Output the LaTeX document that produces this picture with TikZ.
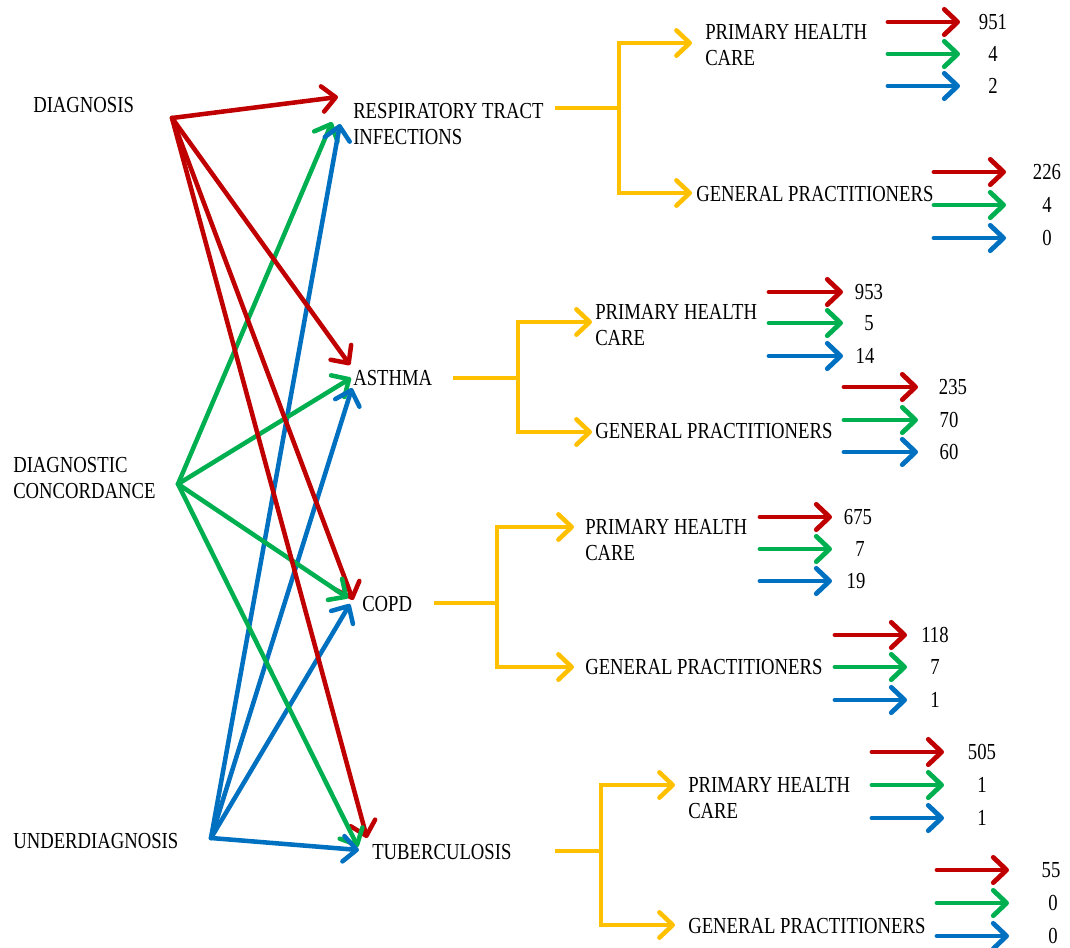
\documentclass[tikz,border=0pt]{standalone}
\usepackage{fontspec}
\setmainfont{Liberation Serif}[FakeStretch=0.815]
\usetikzlibrary{arrows.meta}
\definecolor{cRed}{HTML}{C00000}
\definecolor{cGreen}{HTML}{00B050}
\definecolor{cBlue}{HTML}{0070C0}
\definecolor{cGold}{HTML}{FFC000}

\begin{document}
\begin{tikzpicture}[
  x=0.75pt, y=-0.75pt,
  >={Straight Barb[round,length=10pt,width=19pt]},
  txt/.style={font=\fontsize{17.2}{20}\selectfont, inner sep=0pt, anchor=west, align=left},
  num/.style={font=\fontsize{17.2}{20}\selectfont, inner sep=0pt},
  link/.style={line width=3.4pt, ->, line cap=round},
  feed/.style={line width=3.4pt, cGold},
  count/.style={line width=3.6pt, ->, line cap=round},
]
\useasboundingbox (0,0) rectangle (1070,947);

% left column
\node[txt] (diag) at (33,105) {DIAGNOSIS};
\node[txt] (conc) at (13,478) {DIAGNOSTIC\\CONCORDANCE};
\node[txt] (under) at (13,841) {UNDERDIAGNOSIS};

% middle column
\node[txt] (rti) at (353,124) {RESPIRATORY TRACT\\INFECTIONS};
\node[txt] (asth) at (353,378) {ASTHMA};
\node[txt] (copd) at (362,604) {COPD};
\node[txt] (tb) at (372,852) {TUBERCULOSIS};

% where the links leave and land
\coordinate (diag-o) at (172,118);
\coordinate (conc-o) at (178,484);
\coordinate (under-o) at (211,838);
\coordinate (rti-r) at (338,97);
\coordinate (rti-g) at (332,122);
\coordinate (rti-b) at (340,124);
\coordinate (asth-r) at (350,365);
\coordinate (asth-g) at (351,378);
\coordinate (asth-b) at (352,388);
\coordinate (copd-r) at (353,600);
\coordinate (copd-g) at (348,598);
\coordinate (copd-b) at (350,604);
\coordinate (tb-r) at (367,838);
\coordinate (tb-g) at (358,847);
\coordinate (tb-b) at (359,850);

\foreach \t in {rti,asth,copd,tb}{
  \draw[link,cRed] (diag-o) -- (\t-r);
  \draw[link,cGreen] (conc-o) -- (\t-g);
  \draw[link,cBlue] (under-o) -- (\t-b);
}

% care settings
\node[txt] (rti-phc) at (705,45) {PRIMARY HEALTH\\CARE};
\node[txt] (rti-gp) at (696,194) {GENERAL PRACTITIONERS};
\node[txt] (asth-phc) at (595,325) {PRIMARY HEALTH\\CARE};
\node[txt] (asth-gp) at (595,431) {GENERAL PRACTITIONERS};
\node[txt] (copd-phc) at (585,540) {PRIMARY HEALTH\\CARE};
\node[txt] (copd-gp) at (585,667) {GENERAL PRACTITIONERS};
\node[txt] (tb-phc) at (688,798) {PRIMARY HEALTH\\CARE};
\node[txt] (tb-gp) at (688,926) {GENERAL PRACTITIONERS};

% brackets
\foreach \t/\sx/\jx/\y/\ya/\yb/\tx in {rti/555/619/108/43/193/692,
  asth/453/518/378/322/432/592, copd/434/497/603/527/667/574,
  tb/555/601/851/785/925/675}{
  \coordinate (\t-s) at (\sx,\y);
  \coordinate (\t-j) at (\jx,\y);
  \coordinate (\t-pa) at (\tx,\ya);
  \coordinate (\t-ga) at (\tx,\yb);
  \draw[feed] (\t-s) -- (\t-j);
  \draw[feed,->] (\t-j) |- (\t-pa);
  \draw[feed,->] (\t-j) |- (\t-ga);
}

% counts
\foreach \nm/\xa/\xb/\y/\col/\val/\xn in {
  rti-p1/888/960/22/cRed/951/993, rti-p2/888/960/54/cGreen/4/993,
  rti-p3/888/960/86/cBlue/2/993,
  rti-g1/934/1006/172/cRed/226/1047, rti-g2/934/1006/205/cGreen/4/1047,
  rti-g3/934/1006/238/cBlue/0/1047,
  asth-p1/769/843/292/cRed/953/869, asth-p2/769/843/323/cGreen/5/869,
  asth-p3/769/843/356/cBlue/14/865,
  asth-g1/844/918/387/cRed/235/953, asth-g2/844/918/420/cGreen/70/949,
  asth-g3/844/918/452/cBlue/60/949,
  copd-p1/760/832/517/cRed/675/858, copd-p2/760/832/549/cGreen/7/860,
  copd-p3/760/832/581/cBlue/19/856,
  copd-g1/835/907/635/cRed/118/935, copd-g2/835/907/667/cGreen/7/935,
  copd-g3/835/907/700/cBlue/1/935,
  tb-p1/872/944/752/cRed/505/982, tb-p2/872/944/785/cGreen/1/982,
  tb-p3/872/944/818/cBlue/1/982,
  tb-g1/937/1009/870/cRed/55/1051, tb-g2/937/1009/903/cGreen/0/1053,
  tb-g3/937/1009/936/cBlue/0/1053}{
  \coordinate (\nm-a) at (\xa,\y);
  \coordinate (\nm-b) at (\xb,\y);
  \draw[count,\col] (\nm-a) -- (\nm-b);
  \node[num] (\nm) at (\xn,\y) {\val};
}
\end{tikzpicture}
\end{document}
